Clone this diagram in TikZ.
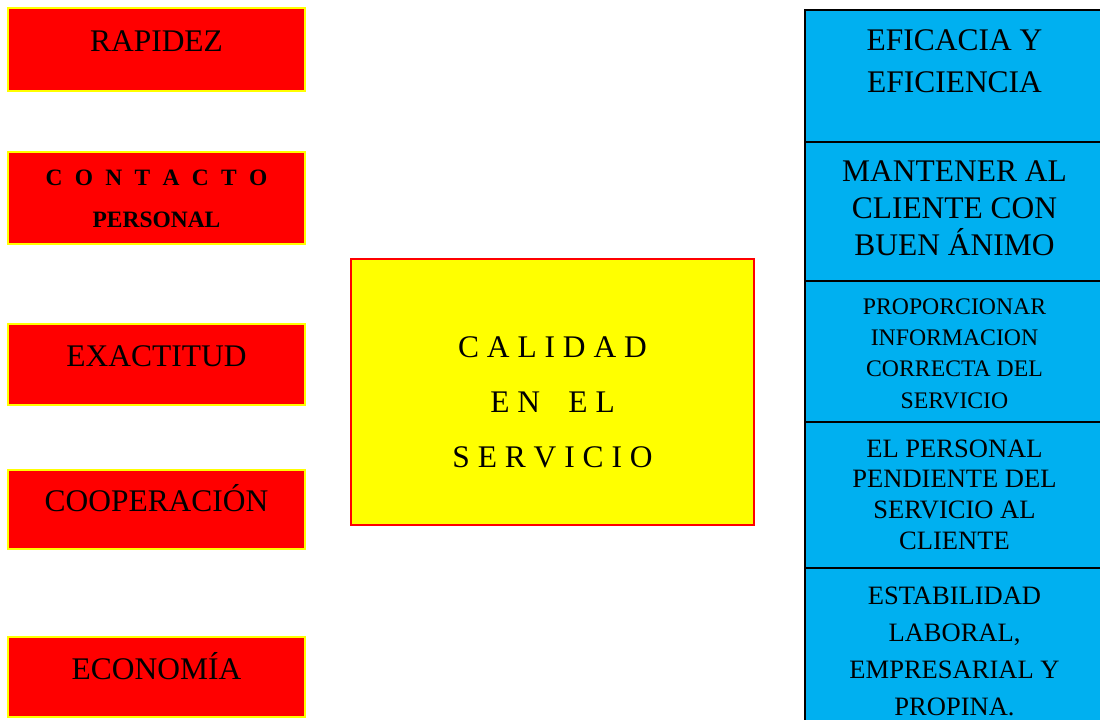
\documentclass[tikz,border=0pt]{standalone}
\usepackage{fontspec}
\setmainfont{Liberation Serif}
\definecolor{boxred}{RGB}{255,0,0}
\definecolor{boxyellow}{RGB}{255,255,0}
\definecolor{boxblue}{RGB}{0,176,240}
\begin{document}
\begin{tikzpicture}[x=0.75pt,y=-0.75pt]
\tikzset{
  leftbox/.style={draw=boxyellow, fill=boxred, line width=1.5pt, minimum width=222.75pt, inner sep=0pt, rectangle},
  centerbox/.style={draw=boxred, fill=boxyellow, line width=1.5pt, minimum width=302.25pt, minimum height=199.5pt, inner sep=0pt, rectangle},
  rightbox/.style={draw=black, fill=boxblue, line width=1.2pt, minimum width=224.25pt, inner sep=0pt, rectangle},
  bigtext/.style={anchor=base, align=center, inner sep=0pt, font=\fontsize{23.6pt}{31.5pt}\selectfont},
}
\useasboundingbox (0,0) rectangle (1100,720);
% left boxes
\node[leftbox, minimum height=62.25pt] (rap) at (156.5,49.5) {};
\node[leftbox, minimum height=69pt] (con) at (156.5,198) {};
\node[leftbox, minimum height=60.75pt] (exa) at (156.5,364.5) {};
\node[leftbox, minimum height=59.25pt] (coo) at (156.5,509.5) {};
\node[leftbox, minimum height=60pt] (eco) at (156.5,677) {};
\node[bigtext] (raptx) at (156.5,52) {RAPIDEZ};
\node[anchor=base, align=center, inner sep=0pt, font=\bfseries\fontsize{17.6pt}{31.5pt}\selectfont] (contx) at (156.5,228) {\makebox[166.5pt][s]{C O N T A C T O}\\PERSONAL};
\node[bigtext] (exatx) at (156.5,367) {EXACTITUD};
\node[bigtext] (cootx) at (156.5,511) {COOPERACIÓN};
\node[bigtext] (ecotx) at (156.5,679) {ECONOMÍA};
% center box
\node[centerbox] (cal) at (552.5,392) {};
\node[anchor=base, align=center, inner sep=0pt, font=\fontsize{23.6pt}{41.25pt}\selectfont] (caltx) at (552.5,467) {C A L I D A D\\E N\hspace{0.9em}E L\\S E R V I C I O};
% right boxes
\node[rightbox, minimum height=99pt] (r1) at (954.5,76) {};
\node[rightbox, minimum height=104.25pt] (r2) at (954.5,211.5) {};
\node[rightbox, minimum height=105.75pt] (r3) at (954.5,351.5) {};
\node[rightbox, minimum height=109.5pt] (r4) at (954.5,495) {};
\node[rightbox, minimum height=121.5pt] (r5) at (954.5,649) {};
\node[bigtext] (r1tx) at (954.5,93) {EFICACIA Y\\EFICIENCIA};
\node[anchor=base, align=center, inner sep=0pt, font=\fontsize{23.6pt}{27.75pt}\selectfont] (r2tx) at (954.5,256) {MANTENER AL\\CLIENTE CON\\BUEN ÁNIMO};
\node[anchor=base, align=center, inner sep=0pt, font=\fontsize{17.8pt}{23.5pt}\selectfont] (r3tx) at (954.5,408) {PROPORCIONAR\\INFORMACION\\CORRECTA DEL\\SERVICIO};
\node[anchor=base, align=center, inner sep=0pt, font=\fontsize{19.9pt}{23pt}\selectfont] (r4tx) at (954.5,549) {EL PERSONAL\\PENDIENTE DEL\\SERVICIO AL\\CLIENTE};
\node[anchor=base, align=center, inner sep=0pt, font=\fontsize{19.9pt}{27.75pt}\selectfont] (r5tx) at (954.5,715) {ESTABILIDAD\\LABORAL,\\EMPRESARIAL Y\\PROPINA.};
\end{tikzpicture}
\end{document}
